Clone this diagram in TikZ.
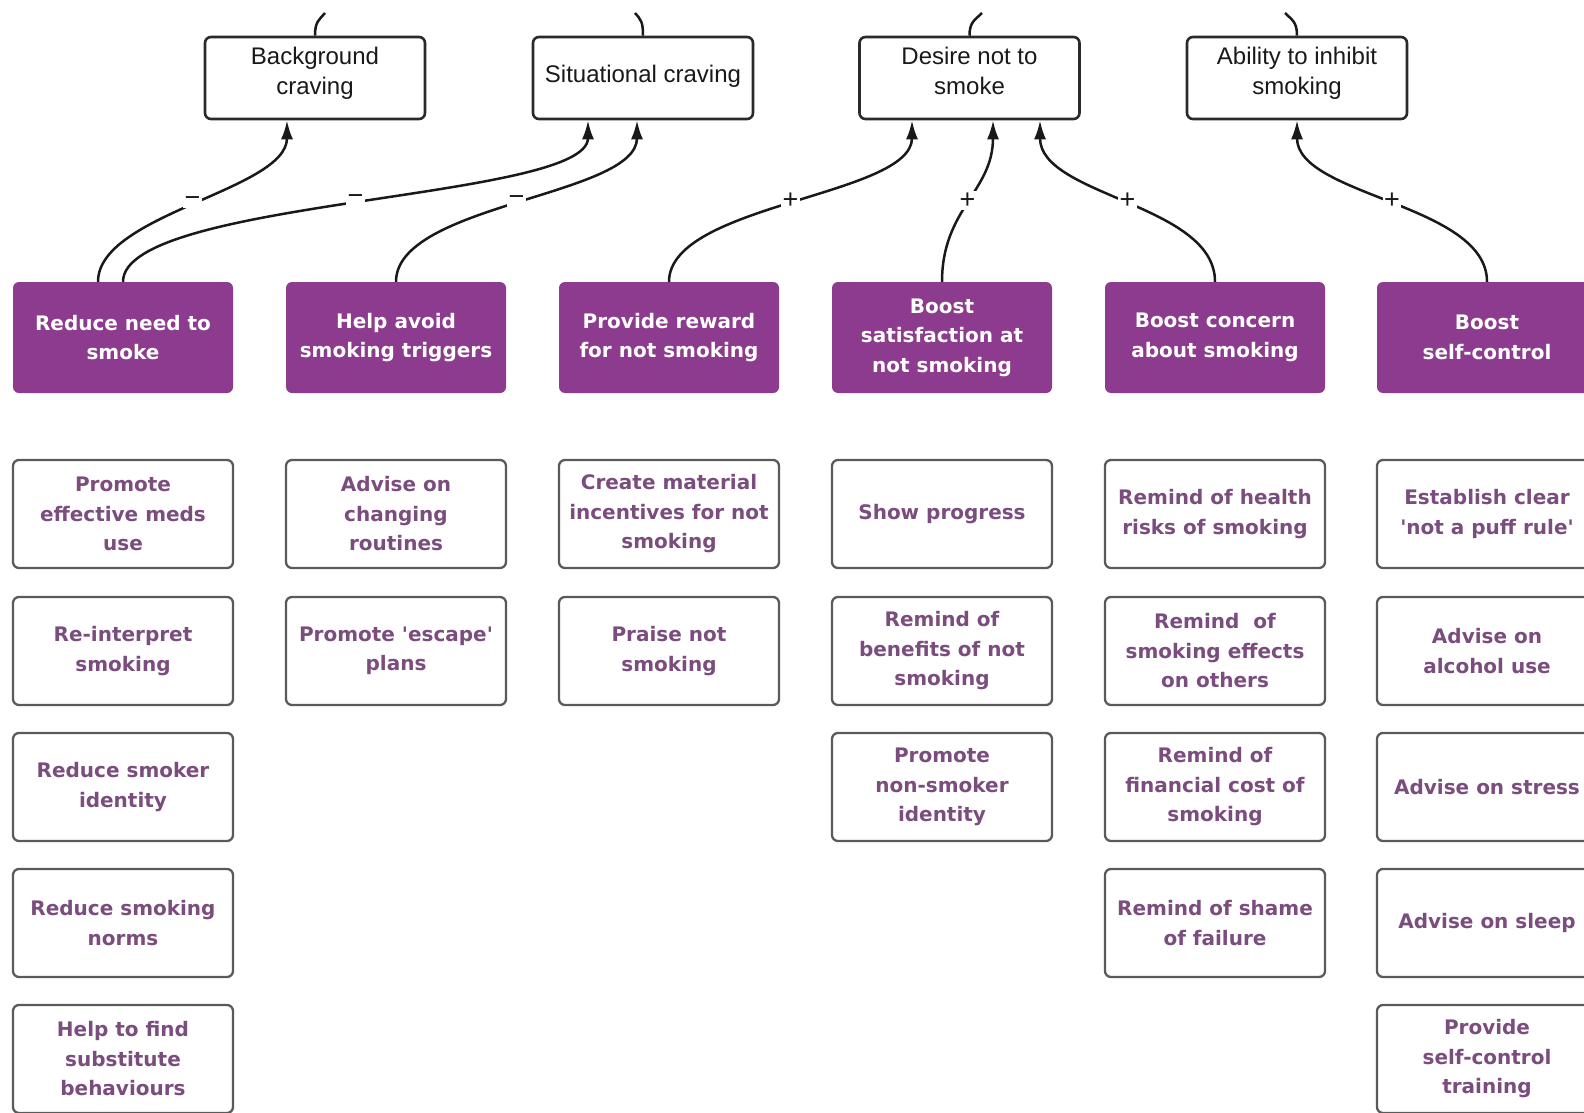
\documentclass[tikz,border=0pt]{standalone}
\usepackage{fontspec}
\usetikzlibrary{arrows.meta}
\newfontfamily\headfont{Liberation Sans}
\newfontfamily\cardfont{DejaVu Sans}

\definecolor{lever}{HTML}{8C3B8E}
\definecolor{acttext}{HTML}{7B4C7E}
\definecolor{actedge}{HTML}{5A5A5A}
\definecolor{topedge}{HTML}{2A2A2A}

\tikzset{
  topbox/.style={draw=topedge, line width=2.6pt, rounded corners=6pt, fill=white,
    minimum width=220pt, minimum height=82pt, inner sep=0pt},
  toptext/.style={font=\headfont\fontsize{24}{30}\selectfont, align=center, inner sep=0pt, text=black!90},
  leverbox/.style={fill=lever, rounded corners=6pt, minimum width=220pt, minimum height=111pt,
    text=white, font=\cardfont\bfseries\fontsize{20}{29.5}\selectfont, align=center, inner sep=0pt},
  actbox/.style={draw=actedge, line width=2.3pt, rounded corners=6pt, fill=white,
    minimum width=220pt, minimum height=108pt, text=acttext,
    font=\cardfont\bfseries\fontsize{20}{29.5}\selectfont, align=center, inner sep=0pt},
  link/.style={line width=2.5pt, draw=black!90, -{Latex[length=19pt,width=12pt]}},
  wire/.style={line width=2.5pt, draw=black!90},
  sign/.style={fill=white, inner sep=1.5pt, font=\headfont\fontsize{27}{27}\selectfont, text=black!90},
}

\begin{document}
\begin{tikzpicture}[x=1pt, y=-1pt]
  \useasboundingbox (0,0) rectangle (1584,1113);
  \clip (0,0) rectangle (1584,1113);
  \fill[white] (0,0) rectangle (1584,1113);

  % determinants
  \node[topbox] (bg) at (315,78) {};
  \node[topbox] (sit) at (643,78) {};
  \node[topbox] (des) at (969.5,78) {};
  \node[topbox] (abl) at (1297,78) {};
  \node[toptext, anchor=north] at ([yshift=-11pt]bg.north) {Background\\craving};
  \node[toptext, anchor=base] at ([yshift=-5pt]sit.center) {Situational craving};
  \node[toptext, anchor=north] at ([yshift=-11pt]des.north) {Desire not to\\smoke};
  \node[toptext, anchor=north] at ([yshift=-11pt]abl.north) {Ability to inhibit\\smoking};

  % links leaving the determinants upwards
  \coordinate (bgup) at (325,13);
  \coordinate (situp) at (635,13);
  \coordinate (desup) at (982,13);
  \coordinate (ablup) at (1285,13);
  \draw[wire] (bg.north) .. controls +(0,-14) and +(-6,7) .. (bgup);
  \draw[wire] (sit.north) .. controls +(0,-14) and +(6,7) .. (situp);
  \draw[wire] (des.north) .. controls +(0,-14) and +(-7,7) .. (desup);
  \draw[wire] (abl.north) .. controls +(0,-14) and +(7,7) .. (ablup);

  % intervention functions
  \node[leverbox] (l1) at (123,337.5) {Reduce need to\\smoke};
  \node[leverbox] (l2) at (396,337.5) {Help avoid\\smoking triggers};
  \node[leverbox] (l3) at (669,337.5) {Provide reward\\for not smoking};
  \node[leverbox] (l4) at (942,337.5) {Boost\\satisfaction at\\not smoking};
  \node[leverbox] (l5) at (1215,337.5) {Boost concern\\about smoking};
  \node[leverbox] (l6) at (1487,337.5) {Boost\\self-control};

  % effects of the intervention functions
  \draw[link] ([xshift=-25pt]l1.north) .. controls +(0,-68) and +(0,70) .. node[sign]{−} ([xshift=-28pt]bg.south);
  \draw[link] (l1.north) .. controls +(0,-83) and +(0,80) .. node[sign]{−} ([xshift=-55pt]sit.south);
  \draw[link] (l2.north) .. controls +(0,-78) and +(0,76) .. node[sign]{−} ([xshift=-6pt]sit.south);
  \draw[link] (l3.north) .. controls +(0,-78) and +(0,76) .. node[sign]{+} ([xshift=-57.5pt]des.south);
  \draw[link] (l4.north) .. controls +(0,-73) and +(0,71) .. node[sign]{+} ([xshift=23.5pt]des.south);
  \draw[link] (l5.north) .. controls +(0,-78) and +(0,76) .. node[sign]{+} ([xshift=70.5pt]des.south);
  \draw[link] (l6.north) .. controls +(0,-78) and +(0,76) .. node[sign]{+} (abl.south);

  % behaviour change techniques, column 1
  \node[actbox] (a11) at (123,514) {Promote\\effective meds\\use};
  \node[actbox] (a12) at (123,651) {Re-interpret\\smoking};
  \node[actbox] (a13) at (123,787) {Reduce smoker\\identity};
  \node[actbox] (a14) at (123,923) {Reduce smoking\\norms};
  \node[actbox] (a15) at (123,1059) {Help to find\\substitute\\behaviours};
  % column 2
  \node[actbox] (a21) at (396,514) {Advise on\\changing\\routines};
  \node[actbox] (a22) at (396,651) {Promote 'escape'\\plans};
  % column 3
  \node[actbox] (a31) at (669,514) {Create material\\incentives for not\\smoking};
  \node[actbox] (a32) at (669,651) {Praise not\\smoking};
  % column 4
  \node[actbox] (a41) at (942,514) {Show progress};
  \node[actbox] (a42) at (942,651) {Remind of\\benefits of not\\smoking};
  \node[actbox] (a43) at (942,787) {Promote\\non-smoker\\identity};
  % column 5
  \node[actbox] (a51) at (1215,514) {Remind of health\\risks of smoking};
  \node[actbox] (a52) at (1215,651) {Remind\ \ of\\smoking effects\\on others};
  \node[actbox] (a53) at (1215,787) {Remind of\\financial cost of\\smoking};
  \node[actbox] (a54) at (1215,923) {Remind of shame\\of failure};
  % column 6
  \node[actbox] (a61) at (1487,514) {Establish clear\\'not a puff rule'};
  \node[actbox] (a62) at (1487,651) {Advise on\\alcohol use};
  \node[actbox] (a63) at (1487,787) {Advise on stress};
  \node[actbox] (a64) at (1487,923) {Advise on sleep};
  \node[actbox] (a65) at (1487,1059) {Provide\\self-control\\training};
\end{tikzpicture}
\end{document}
